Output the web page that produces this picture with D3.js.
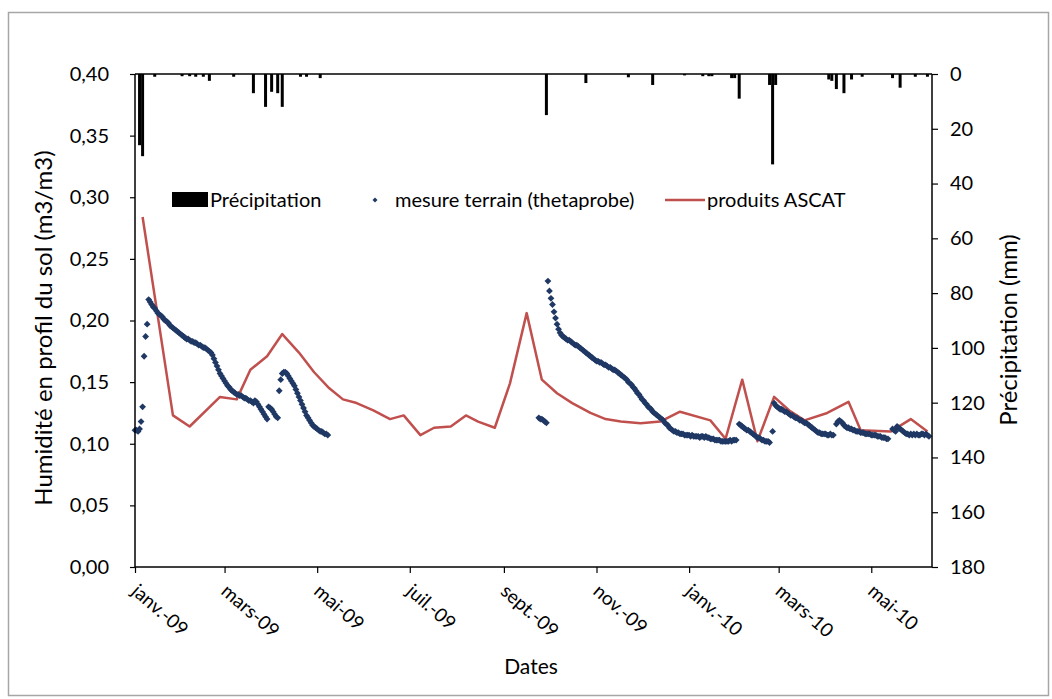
<!DOCTYPE html>
<html><head><meta charset="utf-8">
<script src="https://cdn.jsdelivr.net/npm/d3@7"></script>
<style>body{margin:0;background:#fff;} text{font-family:Lato,"Open Sans",sans-serif;fill:#000;}</style>
</head><body>
<svg id="c" width="1052" height="699"></svg>
<script>
// ---------- data ----------
const leftTickLabels = ["0,00","0,05","0,10","0,15","0,20","0,25","0,30","0,35","0,40"];
const leftTickValues = [0,0.05,0.10,0.15,0.20,0.25,0.30,0.35,0.40];
const rightTickValues = [0,20,40,60,80,100,120,140,160,180];
const monthTickDates = ["2009-01-01","2009-03-01","2009-05-01","2009-07-01","2009-09-01","2009-11-01","2010-01-01","2010-03-01","2010-05-01"];
const monthTickLabels = ["janv.-09","mars-09","mai-09","juil.-09","sept.-09","nov.-09","janv.-10","mars-10","mai-10"];

// precipitation (mm)
const rainDates = ["2009-01-04","2009-01-06","2009-01-14","2009-02-01","2009-02-06","2009-02-10","2009-02-15","2009-02-19","2009-03-07","2009-03-20","2009-03-28","2009-04-01","2009-04-05","2009-04-08","2009-04-20","2009-04-24","2009-05-03","2009-09-29","2009-10-25","2009-11-22","2009-12-08","2009-12-29","2010-01-10","2010-01-14","2010-01-16","2010-01-29","2010-01-31","2010-02-03","2010-02-23","2010-02-25","2010-02-27","2010-04-03","2010-04-05","2010-04-08","2010-04-13","2010-04-18","2010-04-25","2010-05-15","2010-05-20","2010-05-30","2010-06-07"];
const rainValues = [26,30,1,0.8,0.8,1,1,2.5,1,7,12,6.5,7,12,1,1,1.5,15,3.3,1.2,4,0.5,0.8,0.8,0.8,1.5,1.5,9,4,33,4,2,2.5,5.5,7,2,1,1.5,5,1,1];

// ASCAT products
const ascatDates = ["2009-01-06","2009-01-26","2009-02-06","2009-02-26","2009-03-09","2009-03-18","2009-03-29","2009-04-08","2009-04-19","2009-04-29","2009-05-09","2009-05-18","2009-05-27","2009-06-07","2009-06-18","2009-06-27","2009-07-08","2009-07-17","2009-07-28","2009-08-07","2009-08-15","2009-08-26","2009-09-05","2009-09-16","2009-09-26","2009-10-06","2009-10-16","2009-10-28","2009-11-07","2009-11-17","2009-11-30","2009-12-13","2009-12-26","2010-01-15","2010-01-25","2010-02-05","2010-02-15","2010-02-26","2010-03-08","2010-03-18","2010-04-02","2010-04-16","2010-04-24","2010-05-14","2010-05-27","2010-06-07"];
const ascatValues = [0.284,0.123,0.114,0.138,0.136,0.160,0.171,0.189,0.174,0.158,0.145,0.136,0.133,0.127,0.120,0.123,0.107,0.113,0.114,0.123,0.118,0.113,0.149,0.206,0.152,0.141,0.133,0.125,0.120,0.118,0.1166,0.118,0.126,0.119,0.104,0.152,0.102,0.138,0.127,0.119,0.125,0.134,0.111,0.110,0.120,0.110];

// field measurements (thetaprobe), daily values per run
const probeStarts = ["2009-01-01","2009-04-06","2009-09-24","2009-09-30","2010-02-03","2010-02-25","2010-02-26","2010-04-08","2010-05-15"];
const probeRuns = [
 [0.111,0.111,0.110,0.112,0.118,0.130,0.171,0.187,0.197,0.217,0.215,0.213,0.211,0.210,0.208,0.206,0.205,0.204,0.203,0.201,0.200,0.199,0.198,0.196,0.195,0.194,0.193,0.192,0.191,0.190,0.189,0.188,0.187,0.186,0.185,0.185,0.184,0.183,0.183,0.182,0.182,0.181,0.180,0.180,0.179,0.178,0.178,0.177,0.176,0.175,0.174,0.172,0.169,0.166,0.163,0.160,0.157,0.155,0.153,0.151,0.149,0.147,0.146,0.144,0.143,0.142,0.141,0.140,0.140,0.139,0.139,0.138,0.137,0.137,0.136,0.135,0.135,0.134,0.133,0.135,0.134,0.132,0.130,0.128,0.126,0.124,0.122,0.120,0.130,0.129,0.128,0.126,0.124,0.122,0.121],
 [0.143,0.152,0.157,0.158,0.158,0.157,0.155,0.153,0.151,0.149,0.147,0.144,0.141,0.138,0.135,0.132,0.129,0.126,0.123,0.121,0.119,0.117,0.115,0.114,0.113,0.112,0.111,0.110,0.110,0.109,0.108,0.108,0.107],
 [0.121,0.120,0.120,0.119,0.118,0.117],
 [0.232,0.224,0.218,0.213,0.207,0.202,0.197,0.193,0.190,0.188,0.187,0.186,0.185,0.184,0.184,0.183,0.182,0.181,0.180,0.180,0.179,0.178,0.177,0.176,0.175,0.174,0.173,0.172,0.171,0.170,0.169,0.168,0.167,0.167,0.166,0.166,0.165,0.164,0.164,0.163,0.162,0.162,0.161,0.160,0.160,0.159,0.158,0.157,0.156,0.155,0.154,0.153,0.152,0.150,0.149,0.148,0.146,0.145,0.143,0.141,0.140,0.138,0.136,0.135,0.133,0.132,0.130,0.129,0.128,0.126,0.125,0.124,0.123,0.122,0.121,0.120,0.119,0.117,0.116,0.115,0.113,0.112,0.111,0.110,0.110,0.109,0.109,0.108,0.108,0.108,0.107,0.107,0.107,0.107,0.106,0.107,0.106,0.106,0.106,0.106,0.105,0.106,0.106,0.105,0.106,0.105,0.105,0.104,0.104,0.104,0.103,0.103,0.103,0.103,0.102,0.102,0.102,0.102,0.102,0.102,0.103,0.102,0.103,0.103,0.103],
 [0.116,0.115,0.114,0.113,0.112,0.111,0.111,0.110,0.109,0.108,0.107,0.106,0.105,0.105,0.104,0.103,0.103,0.102,0.102,0.102,0.101],
 [0.110],
 [0.133,0.131,0.130,0.129,0.128,0.128,0.127,0.126,0.126,0.125,0.124,0.123,0.123,0.122,0.121,0.121,0.120,0.119,0.119,0.118,0.117,0.117,0.116,0.115,0.114,0.113,0.112,0.111,0.110,0.109,0.109,0.108,0.108,0.108,0.108,0.107,0.107,0.108,0.107,0.107],
 [0.116,0.118,0.119,0.118,0.117,0.115,0.114,0.113,0.113,0.112,0.112,0.111,0.111,0.110,0.110,0.110,0.109,0.109,0.109,0.108,0.108,0.108,0.108,0.107,0.107,0.107,0.107,0.106,0.106,0.106,0.105,0.105,0.105,0.104,0.104],
 [0.112,0.111,0.110,0.114,0.113,0.112,0.111,0.110,0.109,0.108,0.108,0.107,0.108,0.107,0.108,0.107,0.108,0.107,0.107,0.108,0.108,0.107,0.108,0.107,0.106]
];

// ---------- drawing ----------
const parse = d3.utcParse("%Y-%m-%d");
const svg = d3.select("#c");
const m = {left:135, right:932, top:74, bottom:567};

svg.append("rect").attr("x",8.5).attr("y",12.5).attr("width",1040).attr("height",683)
  .attr("fill","#fff").attr("stroke","#a6a6a6").attr("stroke-width",1.5);

const x = d3.scaleUtc().domain([parse("2009-01-01"), parse("2010-06-10")]).range([m.left, m.right]);
const yL = d3.scaleLinear().domain([0,0.40]).range([m.bottom, m.top]);
const yR = d3.scaleLinear().domain([0,180]).range([m.top, m.bottom]);

// precipitation bars
svg.append("g").selectAll("rect").data(rainDates.map((d,i)=>({d:parse(d),v:rainValues[i]})))
  .join("rect").attr("x",d=>x(d.d)-1.5).attr("width",3).attr("y",yR(0))
  .attr("height",d=>yR(d.v)-yR(0)).attr("fill","#000");

// ASCAT line
const ascat = ascatDates.map((d,i)=>({d:parse(d),v:ascatValues[i]}));
svg.append("path").datum(ascat).attr("fill","none").attr("stroke","#c0504d").attr("stroke-width",2.5)
  .attr("stroke-linejoin","round")
  .attr("d", d3.line().x(d=>x(d.d)).y(d=>yL(d.v)));

// probe diamonds
const probe = [];
probeStarts.forEach((s,k)=>{
  const st = parse(s);
  probeRuns[k].forEach((v,i)=>probe.push({d:d3.utcDay.offset(st,i), v}));
});
const diamond = "M0,-3.4L3.4,0L0,3.4L-3.4,0Z";
svg.append("g").selectAll("path").data(probe).join("path")
  .attr("d",diamond).attr("fill","#1f3864")
  .attr("transform",d=>`translate(${x(d.d)},${yL(d.v)})`);

// plot frame
svg.append("line").attr("x1",m.left).attr("x2",m.right).attr("y1",m.top).attr("y2",m.top).attr("stroke","#000").attr("stroke-width",1.5);

// axes
const fs = "20px";
const axL = svg.append("g").attr("transform",`translate(${m.left},0)`)
  .call(d3.axisLeft(yL).tickValues(leftTickValues).tickFormat((d,i)=>leftTickLabels[i]).tickSize(5).tickPadding(21));
const axR = svg.append("g").attr("transform",`translate(${m.right},0)`)
  .call(d3.axisRight(yR).tickValues(rightTickValues).tickSize(6).tickPadding(12));
const axB = svg.append("g").attr("transform",`translate(0,${m.bottom})`)
  .call(d3.axisBottom(x).tickValues(monthTickDates.map(parse)).tickFormat((d,i)=>monthTickLabels[i]).tickSize(6));
[axL,axR,axB].forEach(a=>{
  a.select(".domain").attr("stroke","#000").attr("stroke-width",1.5);
  a.selectAll(".tick line").attr("stroke","#000").attr("stroke-width",1.2);
  a.selectAll("text").style("font-size",fs).style("font-family","Lato, sans-serif");
});
axR.select(".domain").attr("d",`M0,${m.top}V${m.bottom}`);
axL.select(".domain").attr("d",`M0,${m.top}V${m.bottom}`);
axB.select(".domain").attr("d",`M${m.left},0H${m.right}`);
axB.selectAll(".tick text").style("font-size","19px").attr("text-anchor","start").attr("dy",0).attr("y",0)
  .attr("transform","translate(-5,26) rotate(41)");

// axis titles
svg.append("text").attr("transform","translate(52,328) rotate(-90)").attr("text-anchor","middle")
  .style("font-size","24px").text("Humidité en profil du sol (m3/m3)");
svg.append("text").attr("transform","translate(1017,330) rotate(-90)").attr("text-anchor","middle")
  .style("font-size","24px").text("Précipitation (mm)");
svg.append("text").attr("x",531).attr("y",674).attr("text-anchor","middle")
  .style("font-size","21px").text("Dates");

// legend
const lg = svg.append("g");
lg.append("rect").attr("x",172).attr("y",192).attr("width",36).attr("height",15).attr("fill","#000");
lg.append("text").attr("x",210).attr("y",207).style("font-size","20px").text("Précipitation");
lg.append("path").attr("d","M0,-2.5L2.5,0L0,2.5L-2.5,0Z").attr("fill","#1f3864").attr("transform","translate(375,200)");
lg.append("text").attr("x",395).attr("y",207).style("font-size","20px").text("mesure terrain (thetaprobe)");
lg.append("line").attr("x1",665).attr("x2",705).attr("y1",200).attr("y2",200).attr("stroke","#c0504d").attr("stroke-width",2.5);
lg.append("text").attr("x",707).attr("y",207).style("font-size","20px").text("produits ASCAT");
</script>
</body></html>
